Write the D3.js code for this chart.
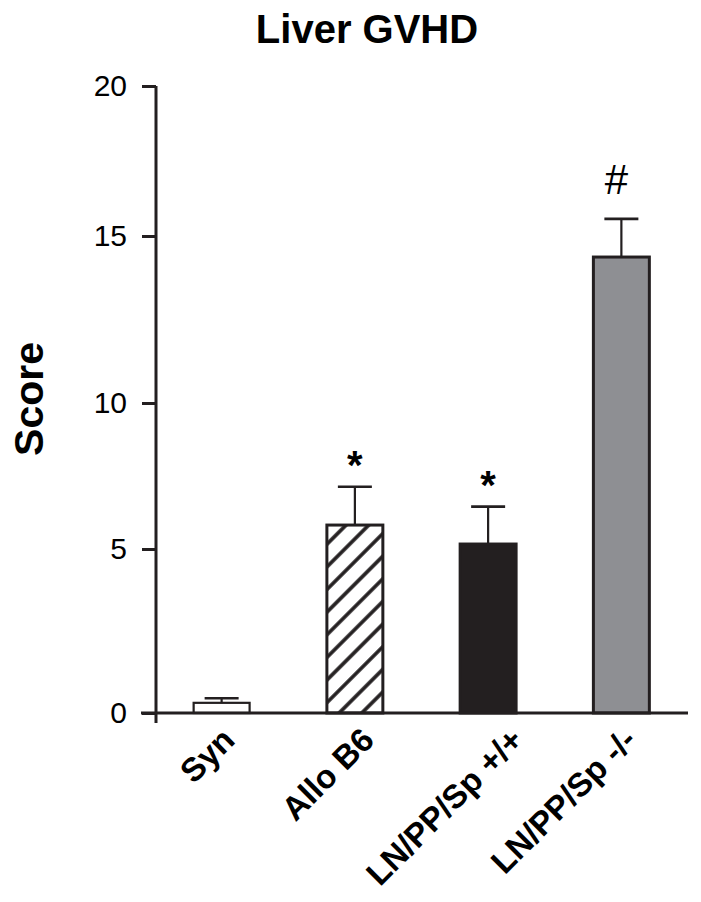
<!DOCTYPE html>
<html>
<head>
<meta charset="utf-8">
<script src="https://cdn.jsdelivr.net/npm/d3@7"></script>
<style>
  html, body { margin: 0; padding: 0; background: #fff; }
  text { font-family: "Liberation Sans", Arial, Helvetica, sans-serif; }
</style>
</head>
<body>
<svg id="chart" width="701" height="902"></svg>
<script>
const categories = ["Syn", "Allo B6", "LN/PP/Sp +/+", "LN/PP/Sp -/-"];
const values = [0.31, 5.82, 5.17, 14.37];
const errors = [0.14, 1.31, 1.28, 1.2];
const marks = ["", "*", "*", "#"];
const fills = ["white", "hatch", "#231f20", "#8e8f93"];
const yTicks = [0, 5, 10, 15, 20];
// the source figure's axis is slightly uneven; tick positions are mapped piecewise
const yTickPos = [713, 549, 403, 236, 86];

// layout: horizontal nudge of each rotated category label (px)
const labelNudge = [15, 21, 37, 17];

const svg = d3.select("#chart");
const ink = "#231f20";

const defs = svg.append("defs");
const pat = defs.append("pattern")
  .attr("id", "hatch")
  .attr("patternUnits", "userSpaceOnUse")
  .attr("width", 16).attr("height", 16)
  .attr("patternTransform", "rotate(45)");
pat.append("rect").attr("width", 16).attr("height", 16).attr("fill", "white");
pat.append("line").attr("x1", 8).attr("y1", -2).attr("x2", 8).attr("y2", 18)
  .attr("stroke", ink).attr("stroke-width", 3.6);

const x = d3.scaleBand().domain(categories).range([155, 688])
  .paddingInner(0.58).paddingOuter(0.29);
const y = d3.scaleLinear().domain(yTicks).range(yTickPos);

// title
svg.append("text").attr("x", 367).attr("y", 43)
  .attr("text-anchor", "middle").attr("font-size", 40).attr("font-weight", "bold")
  .attr("fill", "#000").text("Liver GVHD");

// y label
svg.append("text")
  .attr("transform", "translate(42.5,399) rotate(-90)")
  .attr("text-anchor", "middle").attr("font-size", 41).attr("font-weight", "bold")
  .attr("fill", "#000").text("Score");

// bars
const bars = svg.append("g");
categories.forEach((c, i) => {
  const bx = x(c), bw = x.bandwidth();
  const top = y(values[i]);
  const etop = y(values[i] + errors[i]);
  const cx = bx + bw / 2;
  // error bar
  bars.append("line").attr("x1", cx).attr("x2", cx).attr("y1", top).attr("y2", etop)
    .attr("stroke", ink).attr("stroke-width", 2.2);
  bars.append("line").attr("x1", cx - 17).attr("x2", cx + 17).attr("y1", etop).attr("y2", etop)
    .attr("stroke", ink).attr("stroke-width", 2.6);
  bars.append("rect")
    .attr("x", bx).attr("y", top).attr("width", bw).attr("height", y(0) - top)
    .attr("fill", fills[i] === "hatch" ? "url(#hatch)" : fills[i])
    .attr("stroke", ink).attr("stroke-width", i === 0 ? 2.2 : 3);
  if (marks[i] === "*") {
    bars.append("text").attr("x", cx).attr("y", etop - 8)
      .attr("text-anchor", "middle").attr("font-size", 40).attr("font-weight", "bold")
      .attr("fill", "#000").text("*");
  } else if (marks[i] === "#") {
    bars.append("text").attr("x", cx - 5).attr("y", etop - 25)
      .attr("text-anchor", "middle").attr("font-size", 42)
      .attr("fill", "#000").text("#");
  }
});

// y axis
const yAxis = d3.axisLeft(y).tickValues(yTicks).tickSize(14).tickPadding(15).tickSizeOuter(0);
const gy = svg.append("g").attr("transform", "translate(156,0)").call(yAxis);
gy.attr("font-size", 30).attr("font-family", "'Liberation Sans', Arial, sans-serif");
gy.select(".domain").remove();
gy.append("line").attr("x1", 0).attr("x2", 0).attr("y1", y(20)).attr("y2", y(0) + 10)
  .attr("stroke", ink).attr("stroke-width", 3);
gy.selectAll(".tick line").attr("stroke", ink).attr("stroke-width", 3);
gy.selectAll(".tick text").attr("fill", "#000");

// x axis
const xAxis = d3.axisBottom(x).tickSize(0).tickSizeOuter(0);
const gx = svg.append("g").attr("transform", `translate(0,${y(0)})`).call(xAxis);
gx.attr("font-size", 33).attr("font-family", "'Liberation Sans', Arial, sans-serif");
gx.select(".domain").remove();
gx.append("line").attr("x1", 141).attr("x2", 688).attr("y1", 0).attr("y2", 0)
  .attr("stroke", ink).attr("stroke-width", 3);
gx.selectAll(".tick text")
  .attr("font-weight", "bold").attr("fill", "#000")
  .attr("text-anchor", "end")
  .attr("dy", 0).attr("y", 0)
  .attr("transform", (d, i) => `translate(${labelNudge[i]},29) rotate(-45)`);
</script>
</body>
</html>
